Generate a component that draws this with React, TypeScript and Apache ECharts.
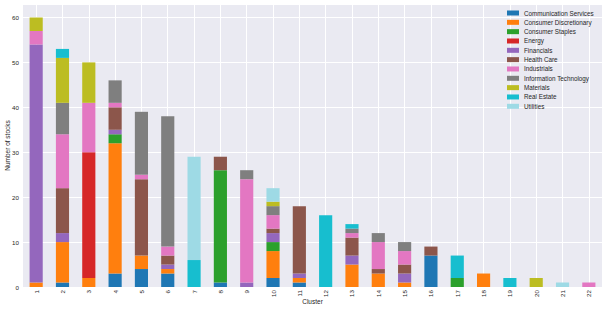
import React, { useEffect, useRef } from "react";
import * as echarts from "echarts";

const clusters = ["1","2","3","4","5","6","7","8","9","10","11","12","13","14","15","16","17","18","19","20","21","22"];
const sectors = [
  "Communication Services",
  "Consumer Discretionary",
  "Consumer Staples",
  "Energy",
  "Financials",
  "Health Care",
  "Industrials",
  "Information Technology",
  "Materials",
  "Real Estate",
  "Utilities",
];
const sectorColors = ["#1f77b4","#ff7f0e","#2ca02c","#d62728","#9467bd","#8c564b","#e377c2","#7f7f7f","#bcbd22","#17becf","#9edae5"];

const communicationServices = [0,1,0,3,4,3,0,1,0,2,1,0,0,0,0,7,0,0,0,0,0,0];
const consumerDiscretionary = [1,9,2,29,3,1,0,0,0,6,1,0,5,3,1,0,0,3,0,0,0,0];
const consumerStaples = [0,0,0,2,0,0,0,25,0,2,0,0,0,0,0,0,2,0,0,0,0,0];
const energy = [0,0,28,0,0,0,0,0,0,0,0,0,0,0,0,0,0,0,0,0,0,0];
const financials = [53,2,0,1,0,1,0,0,1,2,1,0,2,0,2,0,0,0,0,0,0,0];
const healthCare = [0,10,0,5,17,2,0,3,0,1,15,0,4,1,2,2,0,0,0,0,0,0];
const industrials = [3,12,11,1,1,2,0,0,23,3,0,0,1,6,3,0,0,0,0,0,0,1];
const informationTechnology = [0,7,0,5,14,29,0,0,2,2,0,0,1,2,2,0,0,0,0,0,0,0];
const materials = [3,10,9,0,0,0,0,0,0,1,0,0,0,0,0,0,0,0,0,2,0,0];
const realEstate = [0,2,0,0,0,0,6,0,0,0,0,16,1,0,0,0,5,0,2,0,0,0];
const utilities = [0,0,0,0,0,0,23,0,0,3,0,0,0,0,0,0,0,0,0,0,1,0];

const sectorValues = [
  communicationServices, consumerDiscretionary, consumerStaples, energy, financials,
  healthCare, industrials, informationTechnology, materials, realEstate, utilities,
];

// half-band helper axis so vertical grid lines sit at category centres
const halfBands = clusters.flatMap((c) => [c + "a", c + "b"]);

const FONT = "Liberation Sans, Arial, sans-serif";

export default function App() {
  const ref = useRef<HTMLDivElement>(null);
  useEffect(() => {
    document.body.style.margin = "0";
    const chart = echarts.init(ref.current!, null, { renderer: "svg" });
    chart.setOption({
      animation: false,
      backgroundColor: "#ffffff",
      textStyle: { fontFamily: FONT },
      grid: {
        left: 23, right: 5, top: 4, bottom: 23,
        outerBoundsMode: "none",
        containLabel: false,
        show: true, backgroundColor: "#eaeaf2", borderWidth: 0,
      },
      legend: {
        orient: "vertical",
        left: 507,
        top: 9.5,
        padding: 0,
        itemWidth: 12,
        itemHeight: 5,
        itemGap: 2.33,
        icon: "rect",
        textStyle: { fontFamily: FONT, fontSize: 6.3, color: "#262626", lineHeight: 7 },
        data: sectors,
      },
      xAxis: [
        {
          type: "category",
          data: clusters,
          name: "Cluster",
          nameLocation: "middle",
          nameGap: 11,
          nameMoveOverlap: false,
          nameTextStyle: { fontFamily: FONT, fontSize: 6.5, color: "#262626" },
          axisLine: { show: false },
          axisTick: { show: false },
          axisLabel: { rotate: 90, fontSize: 6.2, color: "#262626", margin: 3, fontFamily: FONT },
          splitLine: { show: false },
        },
        {
          type: "category",
          data: halfBands,
          position: "bottom",
          axisLine: { show: false },
          axisTick: { show: false },
          axisLabel: { show: false },
          splitLine: {
            show: true,
            interval: (i: number) => i % 2 === 1,
            lineStyle: { color: "#ffffff", width: 1 },
          },
        },
      ],
      yAxis: {
        type: "value",
        min: 0,
        max: 63,
        interval: 10,
        name: "Number of stocks",
        nameLocation: "middle",
        nameGap: 12,
        nameMoveOverlap: false,
        nameTextStyle: { fontFamily: FONT, fontSize: 6.5, color: "#262626" },
        axisLine: { show: false },
        axisTick: { show: false },
        axisLabel: { fontSize: 6.2, color: "#262626", margin: 4, showMaxLabel: false, fontFamily: FONT },
        splitLine: { show: true, lineStyle: { color: "#ffffff", width: 1 } },
      },
      series: sectors.map((name, i) => ({
        name,
        type: "bar",
        stack: "total",
        xAxisIndex: 0,
        barWidth: "50%",
        data: sectorValues[i],
        itemStyle: { color: sectorColors[i] },
      })),
    });
    return () => chart.dispose();
  }, []);
  return <div ref={ref} style={{ width: 607, height: 310 }} />;
}
